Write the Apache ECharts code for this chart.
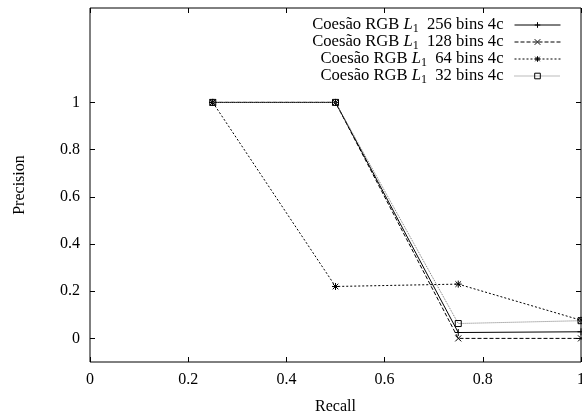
<!DOCTYPE html>
<html><head><meta charset="utf-8">
<script src="https://cdn.jsdelivr.net/npm/echarts@6/dist/echarts.min.js"></script>
<style>html,body{margin:0;padding:0;background:#fff}#c{width:582px;height:415px}</style>
</head><body><div id="c"></div>
<script>
const recall = [0.25, 0.5, 0.75, 1.0];
const prec256 = [1, 1, 0.025, 0.028];
const prec128 = [1, 1, 0.0, 0.0];
const prec64 = [1, 0.22, 0.23, 0.077];
const prec32 = [1, 1, 0.063, 0.075];
const binLabels = ['256 bins 4c', '128 bins 4c', '64 bins 4c', '32 bins 4c'];
const xTicks = [0, 0.2, 0.4, 0.6, 0.8, 1];
const yTicks = [0, 0.2, 0.4, 0.6, 0.8, 1];

const FONT = 'Liberation Serif';
const FS = 16;
const LFS = 16.6;
const names = binLabels.map(b => 'Coesão RGB L1 ' + b);
const pairs = v => recall.map((r, i) => [r, v[i]]);

const sym = {
  plus: 'path://M0,5L10,5M5,0L5,10',
  cross: 'path://M0,0L10,10M10,0L0,10',
  star: 'path://M0,5L10,5M5,0L5,10M1,1L9,9M9,1L1,9',
  square: 'path://M0,0L10,0L10,10L0,10Z'
};

const styles = [
  {symbol: sym.plus, size: 7, line: {color: '#000', width: 1, type: 'solid'}},
  {symbol: sym.cross, size: 6, line: {color: '#000', width: 1, type: [4, 2]}},
  {symbol: sym.star, size: 7, line: {color: '#000', width: 1, type: [2, 2]}},
  {symbol: sym.square, size: 6, line: {color: '#777', width: 1, type: [1, 1]}}
];
const dataSets = [prec256, prec128, prec64, prec32];

const series = dataSets.map((d, i) => ({
  name: names[i],
  type: 'line',
  data: pairs(d),
  symbol: styles[i].symbol,
  symbolSize: styles[i].size,
  showSymbol: true,
  showAllSymbol: true,
  lineStyle: styles[i].line,
  itemStyle: {color: 'none', borderColor: '#000', borderWidth: 1},
  emphasis: {disabled: true},
  animation: false,
  z: 2 + i
}));

const rich = {
  a: {fontFamily: FONT, fontSize: LFS, color: '#000'},
  i: {fontFamily: FONT, fontSize: LFS, fontStyle: 'italic', color: '#000'},
  s: {fontFamily: FONT, fontSize: 12, color: '#000', padding: [8, 0, 0, 0]}
};

const legends = binLabels.map((b, i) => ({
  data: [names[i]],
  right: 21,
  top: 24.5 + 17 * i - 8,
  orient: 'vertical',
  align: 'right',
  padding: 0,
  itemWidth: 46,
  itemHeight: 7,
  selectedMode: false,
  lineStyle: {width: 1},
  itemStyle: {borderWidth: 1},
  formatter: () => '{a|Coesão RGB }{i|L}{s|1}{a|  ' + b + '}',
  textStyle: {rich: rich, padding: [0, 6, 0, 0]}
}));

const tickStyle = {color: '#000', width: 1};
const labelStyle = {fontFamily: FONT, fontSize: FS, color: '#000'};

const option = {
  backgroundColor: '#fff',
  animation: false,
  grid: {left: 90, right: 1, top: 8, bottom: 53, show: true, borderColor: '#000', borderWidth: 1,
    backgroundColor: 'transparent', outerBoundsMode: 'none', containLabel: false},
  legend: legends,
  xAxis: [
    {
      type: 'value', position: 'bottom', min: 0, max: 1, interval: 0.2,
      axisLine: {show: false, onZero: false}, splitLine: {show: false},
      axisTick: {inside: true, length: 5, lineStyle: tickStyle},
      name: 'Recall', nameLocation: 'middle', nameGap: 37,
      nameTextStyle: labelStyle,
      axisLabel: Object.assign({margin: 10, showMaxLabel: true,
        formatter: v => String(+v.toFixed(1))}, labelStyle)
    },
    {
      type: 'value', position: 'top', min: 0, max: 1, interval: 0.2,
      axisLine: {show: false, onZero: false}, splitLine: {show: false},
      axisTick: {inside: true, length: 5, lineStyle: tickStyle},
      axisLabel: {show: false}
    }
  ],
  yAxis: [
    {
      type: 'value', position: 'left', min: -0.1, max: 1.4,
      axisLine: {show: false, onZero: false}, splitLine: {show: false},
      name: 'Precision', nameLocation: 'middle', nameGap: 62, nameRotate: 90,
      nameTextStyle: labelStyle,
      axisTick: {inside: true, length: 5, customValues: yTicks, lineStyle: tickStyle},
      axisLabel: Object.assign({margin: 10, customValues: yTicks,
        formatter: v => String(+(+v).toFixed(1))}, labelStyle)
    },
    {
      type: 'value', position: 'right', min: -0.1, max: 1.4,
      axisLine: {show: false, onZero: false}, splitLine: {show: false},
      axisTick: {inside: true, length: 5, customValues: yTicks, lineStyle: tickStyle},
      axisLabel: {show: false, customValues: yTicks}
    }
  ],
  series: series
};

const chart = echarts.init(document.getElementById('c'), null, {renderer: 'canvas'});
chart.setOption(option);
</script>
</body></html>
